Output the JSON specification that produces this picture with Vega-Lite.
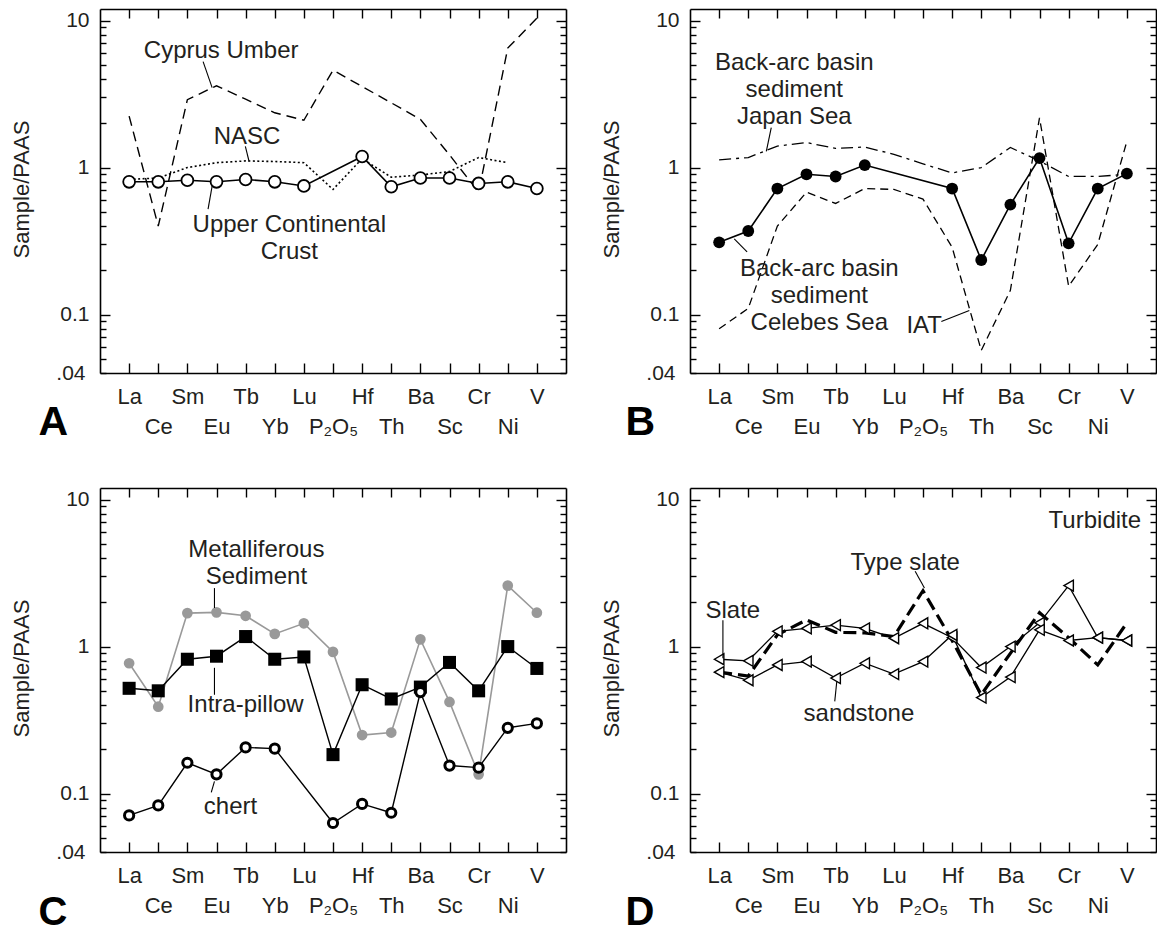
{
"$schema":"https://vega.github.io/schema/vega-lite/v6.json",
"padding":{"left":10,"top":8,"right":0,"bottom":0},
"columns":2,
"spacing":{"row":115,"column":124},
"bounds":"flush",
"datasets":{
"A":[
{"series":"UCC","element":"La","i":0,"value":0.80},{"series":"UCC","element":"Ce","i":1,"value":0.80},{"series":"UCC","element":"Sm","i":2,"value":0.82},{"series":"UCC","element":"Eu","i":3,"value":0.80},{"series":"UCC","element":"Tb","i":4,"value":0.83},{"series":"UCC","element":"Yb","i":5,"value":0.80},{"series":"UCC","element":"Lu","i":6,"value":0.75},{"series":"UCC","element":"Hf","i":8,"value":1.19},{"series":"UCC","element":"Th","i":9,"value":0.74},{"series":"UCC","element":"Ba","i":10,"value":0.85},{"series":"UCC","element":"Sc","i":11,"value":0.85},{"series":"UCC","element":"Cr","i":12,"value":0.78},{"series":"UCC","element":"Ni","i":13,"value":0.80},{"series":"UCC","element":"V","i":14,"value":0.72},
{"series":"NASC","element":"La","i":0,"value":0.83},{"series":"NASC","element":"Ce","i":1,"value":0.85},{"series":"NASC","element":"Sm","i":2,"value":1.0},{"series":"NASC","element":"Eu","i":3,"value":1.08},{"series":"NASC","element":"Tb","i":4,"value":1.11},{"series":"NASC","element":"Yb","i":5,"value":1.10},{"series":"NASC","element":"Lu","i":6,"value":1.08},{"series":"NASC","element":"P2O5","i":7,"value":0.71},{"series":"NASC","element":"Hf","i":8,"value":1.15},{"series":"NASC","element":"Th","i":9,"value":0.86},{"series":"NASC","element":"Ba","i":10,"value":0.89},{"series":"NASC","element":"Sc","i":11,"value":0.94},{"series":"NASC","element":"Cr","i":12,"value":1.17},{"series":"NASC","element":"Ni","i":13,"value":1.08},
{"series":"Cyprus","element":"La","i":0,"value":2.24},{"series":"Cyprus","element":"Ce","i":1,"value":0.40},{"series":"Cyprus","element":"Sm","i":2,"value":2.9},{"series":"Cyprus","element":"Eu","i":3,"value":3.6},{"series":"Cyprus","element":"Tb","i":4,"value":2.92},{"series":"Cyprus","element":"Yb","i":5,"value":2.36},{"series":"Cyprus","element":"Lu","i":6,"value":2.10},{"series":"Cyprus","element":"P2O5","i":7,"value":4.6},{"series":"Cyprus","element":"Hf","i":8,"value":3.56},{"series":"Cyprus","element":"Th","i":9,"value":2.76},{"series":"Cyprus","element":"Ba","i":10,"value":2.13},{"series":"Cyprus","element":"Sc","i":11,"value":1.22},{"series":"Cyprus","element":"Cr","i":12,"value":0.68},{"series":"Cyprus","element":"Ni","i":13,"value":6.5},{"series":"Cyprus","element":"V","i":14,"value":10.4}
],
"B":[
{"series":"Celebes","element":"La","i":0,"value":0.31},{"series":"Celebes","element":"Ce","i":1,"value":0.37},{"series":"Celebes","element":"Sm","i":2,"value":0.72},{"series":"Celebes","element":"Eu","i":3,"value":0.90},{"series":"Celebes","element":"Tb","i":4,"value":0.87},{"series":"Celebes","element":"Yb","i":5,"value":1.04},{"series":"Celebes","element":"Hf","i":8,"value":0.72},{"series":"Celebes","element":"Th","i":9,"value":0.235},{"series":"Celebes","element":"Ba","i":10,"value":0.56},{"series":"Celebes","element":"Sc","i":11,"value":1.16},{"series":"Celebes","element":"Cr","i":12,"value":0.305},{"series":"Celebes","element":"Ni","i":13,"value":0.72},{"series":"Celebes","element":"V","i":14,"value":0.91},
{"series":"Japan","element":"La","i":0,"value":1.13},{"series":"Japan","element":"Ce","i":1,"value":1.17},{"series":"Japan","element":"Sm","i":2,"value":1.40},{"series":"Japan","element":"Eu","i":3,"value":1.48},{"series":"Japan","element":"Tb","i":4,"value":1.35},{"series":"Japan","element":"Yb","i":5,"value":1.38},{"series":"Japan","element":"Lu","i":6,"value":1.23},{"series":"Japan","element":"P2O5","i":7,"value":1.06},{"series":"Japan","element":"Hf","i":8,"value":0.92},{"series":"Japan","element":"Th","i":9,"value":1.0},{"series":"Japan","element":"Ba","i":10,"value":1.37},{"series":"Japan","element":"Sc","i":11,"value":1.11},{"series":"Japan","element":"Cr","i":12,"value":0.87},{"series":"Japan","element":"Ni","i":13,"value":0.87},{"series":"Japan","element":"V","i":14,"value":0.90},
{"series":"IAT","element":"La","i":0,"value":0.080},{"series":"IAT","element":"Ce","i":1,"value":0.11},{"series":"IAT","element":"Sm","i":2,"value":0.40},{"series":"IAT","element":"Eu","i":3,"value":0.68},{"series":"IAT","element":"Tb","i":4,"value":0.57},{"series":"IAT","element":"Yb","i":5,"value":0.72},{"series":"IAT","element":"Lu","i":6,"value":0.71},{"series":"IAT","element":"P2O5","i":7,"value":0.61},{"series":"IAT","element":"Hf","i":8,"value":0.287},{"series":"IAT","element":"Th","i":9,"value":0.057},{"series":"IAT","element":"Ba","i":10,"value":0.146},{"series":"IAT","element":"Sc","i":11,"value":2.18},{"series":"IAT","element":"Cr","i":12,"value":0.156},{"series":"IAT","element":"Ni","i":13,"value":0.30},{"series":"IAT","element":"V","i":14,"value":1.51}
],
"C":[
{"series":"Metal","element":"La","i":0,"value":0.77},{"series":"Metal","element":"Ce","i":1,"value":0.39},{"series":"Metal","element":"Sm","i":2,"value":1.69},{"series":"Metal","element":"Eu","i":3,"value":1.71},{"series":"Metal","element":"Tb","i":4,"value":1.62},{"series":"Metal","element":"Yb","i":5,"value":1.22},{"series":"Metal","element":"Lu","i":6,"value":1.44},{"series":"Metal","element":"P2O5","i":7,"value":0.92},{"series":"Metal","element":"Hf","i":8,"value":0.25},{"series":"Metal","element":"Th","i":9,"value":0.26},{"series":"Metal","element":"Ba","i":10,"value":1.12},{"series":"Metal","element":"Sc","i":11,"value":0.42},{"series":"Metal","element":"Cr","i":12,"value":0.135},{"series":"Metal","element":"Ni","i":13,"value":2.6},{"series":"Metal","element":"V","i":14,"value":1.7},
{"series":"Intra","element":"La","i":0,"value":0.52},{"series":"Intra","element":"Ce","i":1,"value":0.50},{"series":"Intra","element":"Sm","i":2,"value":0.82},{"series":"Intra","element":"Eu","i":3,"value":0.86},{"series":"Intra","element":"Tb","i":4,"value":1.17},{"series":"Intra","element":"Yb","i":5,"value":0.82},{"series":"Intra","element":"Lu","i":6,"value":0.85},{"series":"Intra","element":"P2O5","i":7,"value":0.184},{"series":"Intra","element":"Hf","i":8,"value":0.55},{"series":"Intra","element":"Th","i":9,"value":0.44},{"series":"Intra","element":"Ba","i":10,"value":0.53},{"series":"Intra","element":"Sc","i":11,"value":0.78},{"series":"Intra","element":"Cr","i":12,"value":0.50},{"series":"Intra","element":"Ni","i":13,"value":1.0},{"series":"Intra","element":"V","i":14,"value":0.71},
{"series":"Chert","element":"La","i":0,"value":0.071},{"series":"Chert","element":"Ce","i":1,"value":0.083},{"series":"Chert","element":"Sm","i":2,"value":0.162},{"series":"Chert","element":"Eu","i":3,"value":0.135},{"series":"Chert","element":"Tb","i":4,"value":0.206},{"series":"Chert","element":"Yb","i":5,"value":0.202},{"series":"Chert","element":"P2O5","i":7,"value":0.063},{"series":"Chert","element":"Hf","i":8,"value":0.085},{"series":"Chert","element":"Th","i":9,"value":0.074},{"series":"Chert","element":"Ba","i":10,"value":0.49},{"series":"Chert","element":"Sc","i":11,"value":0.155},{"series":"Chert","element":"Cr","i":12,"value":0.15},{"series":"Chert","element":"Ni","i":13,"value":0.28},{"series":"Chert","element":"V","i":14,"value":0.30}
],
"D":[
{"series":"Slate","element":"La","i":0,"value":0.82},{"series":"Slate","element":"Ce","i":1,"value":0.80},{"series":"Slate","element":"Sm","i":2,"value":1.27},{"series":"Slate","element":"Eu","i":3,"value":1.33},{"series":"Slate","element":"Tb","i":4,"value":1.40},{"series":"Slate","element":"Yb","i":5,"value":1.33},{"series":"Slate","element":"Lu","i":6,"value":1.14},{"series":"Slate","element":"P2O5","i":7,"value":1.44},{"series":"Slate","element":"Hf","i":8,"value":1.15},{"series":"Slate","element":"Th","i":9,"value":0.72},{"series":"Slate","element":"Ba","i":10,"value":1.0},{"series":"Slate","element":"Sc","i":11,"value":1.45},{"series":"Slate","element":"Cr","i":12,"value":2.6},{"series":"Slate","element":"Ni","i":13,"value":1.15},{"series":"Slate","element":"V","i":14,"value":1.1},
{"series":"Sandstone","element":"La","i":0,"value":0.67},{"series":"Sandstone","element":"Ce","i":1,"value":0.59},{"series":"Sandstone","element":"Sm","i":2,"value":0.75},{"series":"Sandstone","element":"Eu","i":3,"value":0.79},{"series":"Sandstone","element":"Tb","i":4,"value":0.61},{"series":"Sandstone","element":"Yb","i":5,"value":0.77},{"series":"Sandstone","element":"Lu","i":6,"value":0.65},{"series":"Sandstone","element":"P2O5","i":7,"value":0.79},{"series":"Sandstone","element":"Hf","i":8,"value":1.2},{"series":"Sandstone","element":"Th","i":9,"value":0.45},{"series":"Sandstone","element":"Ba","i":10,"value":0.62},{"series":"Sandstone","element":"Sc","i":11,"value":1.3},{"series":"Sandstone","element":"Cr","i":12,"value":1.1},{"series":"Sandstone","element":"Ni","i":13,"value":1.15},{"series":"Sandstone","element":"V","i":14,"value":1.1},
{"series":"Type","element":"La","i":0,"value":0.67},{"series":"Type","element":"Ce","i":1,"value":0.63},{"series":"Type","element":"Sm","i":2,"value":1.2},{"series":"Type","element":"Eu","i":3,"value":1.52},{"series":"Type","element":"Tb","i":4,"value":1.25},{"series":"Type","element":"Yb","i":5,"value":1.24},{"series":"Type","element":"Lu","i":6,"value":1.17},{"series":"Type","element":"P2O5","i":7,"value":2.4},{"series":"Type","element":"Hf","i":8,"value":1.1},{"series":"Type","element":"Th","i":9,"value":0.47},{"series":"Type","element":"Ba","i":10,"value":0.9},{"series":"Type","element":"Sc","i":11,"value":1.7},{"series":"Type","element":"Cr","i":12,"value":1.15},{"series":"Type","element":"Ni","i":13,"value":0.75},{"series":"Type","element":"V","i":14,"value":1.45}
],
"An":[{"label":"Cyprus Umber","i":3.16,"value":5.6},{"label":"NASC","i":4.05,"value":1.44},{"label":"Upper Continental\nCrust","i":5.5,"value":0.364}],
"Al":[{"i":2.54,"value":5.26,"i2":2.85,"value2":3.5},{"i":3.99,"value":1.394,"i2":4.12,"value2":1.10},{"i":2.85,"value":0.747,"i2":2.71,"value2":0.522}],
"Bn":[{"label":"Back-arc basin\nsediment\nJapan Sea","i":2.58,"value":4.63},{"label":"Back-arc basin\nsediment\nCelebes Sea","i":3.44,"value":0.1835},{"label":"IAT","i":7.04,"value":0.0743}],
"Bl":[{"i":1.79,"value":1.87,"i2":1.62,"value2":1.29},{"i":0.52,"value":0.327,"i2":0.96,"value2":0.267},{"i":7.63,"value":0.0895,"i2":8.59,"value2":0.1066}],
"Cn":[{"label":"Metalliferous\nSediment","i":4.37,"value":4.06},{"label":"Intra-pillow","i":4.0,"value":0.36},{"label":"chert","i":3.48,"value":0.0721}],
"Cl":[{"i":2.93,"value":2.50,"i2":2.93,"value2":1.83},{"i":2.93,"value":0.717,"i2":2.93,"value2":0.470},{"i":2.93,"value":0.1208,"i2":2.82,"value2":0.1018}],
"Dn":[{"label":"Type slate","i":6.39,"value":3.31},{"label":"Slate","i":0.47,"value":1.56},{"label":"sandstone","i":4.80,"value":0.311},{"label":"Turbidite","i":12.9,"value":6.4}],
"Dl":[{"i":6.73,"value":3.26,"i2":7.05,"value2":2.50},{"i":0.13,"value":1.51,"i2":0.13,"value2":0.832},{"i":4.04,"value":0.58,"i2":3.97,"value2":0.424}]
},
"concat":[
{"width":466,"height":364,
"layer":[
{"mark":{"type":"rule","color":"black","strokeWidth":1.4},"encoding":{"x":{"datum":0,"type":"quantitative","scale":{"domain":[-1,15],"nice":false,"zero":false},"axis":{"orient":"bottom","values":[0,1,2,3,4,5,6,7,8,9,10,11,12,13,14],"labelExpr":"datum.value % 2 == 1 ? ['', ['La','Ce','Sm','Eu','Tb','Yb','Lu','P₂O₅','Hf','Th','Ba','Sc','Cr','Ni','V'][datum.value]] : ['La','Ce','Sm','Eu','Tb','Yb','Lu','P₂O₅','Hf','Th','Ba','Sc','Cr','Ni','V'][datum.value]","labelFontSize":22,"labelLineHeight":30,"labelPadding":23,"labelBaseline":"top","labelAlign":"center","labelOverlap":false,"labelBound":false,"labelFlush":false,"tickSize":-10,"title":"A","titleX":-62,"titleY":61,"titleFontSize":41,"titleFontWeight":"bold","titleAlign":"left","titleBaseline":"alphabetic","titleColor":"black"}},"x2":{"datum":14},"y":{"datum":1,"type":"quantitative","scale":{"type":"log","domain":[0.04,12],"nice":false},"axis":{"orient":"left","values":[0.04,0.05,0.06,0.07,0.08,0.09,0.1,0.2,0.3,0.4,0.5,0.6,0.7,0.8,0.9,1,2,3,4,5,6,7,8,9,10],"labelExpr":"datum.value == 0.04 ? '.04' : datum.value == 0.1 ? '0.1' : datum.value == 1 ? '1' : datum.value == 10 ? '10' : ''","labelFontSize":21,"labelPadding":21,"labelOverlap":false,"labelBound":false,"labelFlush":false,"tickSize":{"condition":{"test":"datum.value == 0.1 || datum.value == 1 || datum.value == 10","value":-10},"value":-6},"title":"Sample/PAAS","titleFontSize":22,"titleFontWeight":"normal","titleX":-79,"titleY":180,"titleAngle":-90,"titleAlign":"center","titleBaseline":"middle"}}}},
{"mark":{"type":"rule","opacity":0},"encoding":{"x":{"datum":0,"type":"quantitative","scale":{"domain":[-1,15],"nice":false,"zero":false},"axis":{"orient":"top","values":[0,1,2,3,4,5,6,7,8,9,10,11,12,13,14],"labels":false,"tickSize":-9,"title":null}},"y":{"datum":1,"type":"quantitative","scale":{"type":"log","domain":[0.04,12],"nice":false},"axis":{"orient":"right","values":[0.04,0.05,0.06,0.07,0.08,0.09,0.1,0.2,0.3,0.4,0.5,0.6,0.7,0.8,0.9,1,2,3,4,5,6,7,8,9,10],"labels":false,"tickSize":{"condition":{"test":"datum.value == 0.1 || datum.value == 1 || datum.value == 10","value":-10},"value":-6},"title":null}}}},
{"data":{"name":"A"},"transform":[{"filter":"datum.series == 'Cyprus'"}],"mark":{"type":"line","color":"black","strokeWidth":1.4,"strokeDash":[10,6]},"encoding":{"x":{"field":"i","type":"quantitative","axis":null},"y":{"field":"value","type":"quantitative","axis":null}}},
{"data":{"name":"A"},"transform":[{"filter":"datum.series == 'NASC'"}],"mark":{"type":"line","color":"black","strokeWidth":1.6,"strokeDash":[2,2.5]},"encoding":{"x":{"field":"i","type":"quantitative","axis":null},"y":{"field":"value","type":"quantitative","axis":null}}},
{"data":{"name":"A"},"transform":[{"filter":"datum.series == 'UCC'"}],"mark":{"type":"line","color":"black","strokeWidth":1.6},"encoding":{"x":{"field":"i","type":"quantitative","axis":null},"y":{"field":"value","type":"quantitative","axis":null}}},
{"data":{"name":"A"},"transform":[{"filter":"datum.series == 'UCC'"}],"mark":{"type":"point","shape":"circle","filled":true,"fill":"white","stroke":"black","strokeWidth":1.8,"size":140,"opacity":1},"encoding":{"x":{"field":"i","type":"quantitative","axis":null},"y":{"field":"value","type":"quantitative","axis":null}}},
{"data":{"name":"Al"},"mark":{"type":"rule","color":"black","strokeWidth":1.1},"encoding":{"x":{"field":"i","type":"quantitative","axis":null},"y":{"field":"value","type":"quantitative","axis":null},"x2":{"field":"i2"},"y2":{"field":"value2"}}},
{"data":{"name":"An"},"mark":{"type":"text","fontSize":24,"align":"center","baseline":"alphabetic","lineBreak":"\n","lineHeight":27,"color":"#231f20"},"encoding":{"x":{"field":"i","type":"quantitative","axis":null},"y":{"field":"value","type":"quantitative","axis":null},"text":{"field":"label"}}}
],
"resolve":{"axis":{"x":"independent","y":"independent"}}},

{"width":466,"height":364,
"layer":[
{"mark":{"type":"rule","color":"black","strokeWidth":1.4},"encoding":{"x":{"datum":0,"type":"quantitative","scale":{"domain":[-1,15],"nice":false,"zero":false},"axis":{"orient":"bottom","values":[0,1,2,3,4,5,6,7,8,9,10,11,12,13,14],"labelExpr":"datum.value % 2 == 1 ? ['', ['La','Ce','Sm','Eu','Tb','Yb','Lu','P₂O₅','Hf','Th','Ba','Sc','Cr','Ni','V'][datum.value]] : ['La','Ce','Sm','Eu','Tb','Yb','Lu','P₂O₅','Hf','Th','Ba','Sc','Cr','Ni','V'][datum.value]","labelFontSize":22,"labelLineHeight":30,"labelPadding":23,"labelBaseline":"top","labelAlign":"center","labelOverlap":false,"labelBound":false,"labelFlush":false,"tickSize":-10,"title":"B","titleX":-65,"titleY":61,"titleFontSize":41,"titleFontWeight":"bold","titleAlign":"left","titleBaseline":"alphabetic","titleColor":"black"}},"x2":{"datum":14},"y":{"datum":1,"type":"quantitative","scale":{"type":"log","domain":[0.04,12],"nice":false},"axis":{"orient":"left","values":[0.04,0.05,0.06,0.07,0.08,0.09,0.1,0.2,0.3,0.4,0.5,0.6,0.7,0.8,0.9,1,2,3,4,5,6,7,8,9,10],"labelExpr":"datum.value == 0.04 ? '.04' : datum.value == 0.1 ? '0.1' : datum.value == 1 ? '1' : datum.value == 10 ? '10' : ''","labelFontSize":21,"labelPadding":21,"labelOverlap":false,"labelBound":false,"labelFlush":false,"tickSize":{"condition":{"test":"datum.value == 0.1 || datum.value == 1 || datum.value == 10","value":-10},"value":-6},"title":"Sample/PAAS","titleFontSize":22,"titleFontWeight":"normal","titleX":-79,"titleY":180,"titleAngle":-90,"titleAlign":"center","titleBaseline":"middle"}}}},
{"mark":{"type":"rule","opacity":0},"encoding":{"x":{"datum":0,"type":"quantitative","scale":{"domain":[-1,15],"nice":false,"zero":false},"axis":{"orient":"top","values":[0,1,2,3,4,5,6,7,8,9,10,11,12,13,14],"labels":false,"tickSize":-9,"title":null}},"y":{"datum":1,"type":"quantitative","scale":{"type":"log","domain":[0.04,12],"nice":false},"axis":{"orient":"right","values":[0.04,0.05,0.06,0.07,0.08,0.09,0.1,0.2,0.3,0.4,0.5,0.6,0.7,0.8,0.9,1,2,3,4,5,6,7,8,9,10],"labels":false,"tickSize":{"condition":{"test":"datum.value == 0.1 || datum.value == 1 || datum.value == 10","value":-10},"value":-6},"title":null}}}},
{"data":{"name":"B"},"transform":[{"filter":"datum.series == 'IAT'"}],"mark":{"type":"line","color":"black","strokeWidth":1.3,"strokeDash":[8,5]},"encoding":{"x":{"field":"i","type":"quantitative","axis":null},"y":{"field":"value","type":"quantitative","axis":null}}},
{"data":{"name":"B"},"transform":[{"filter":"datum.series == 'Japan'"}],"mark":{"type":"line","color":"black","strokeWidth":1.3,"strokeDash":[12,5,3,5]},"encoding":{"x":{"field":"i","type":"quantitative","axis":null},"y":{"field":"value","type":"quantitative","axis":null}}},
{"data":{"name":"B"},"transform":[{"filter":"datum.series == 'Celebes'"}],"mark":{"type":"line","color":"black","strokeWidth":1.6},"encoding":{"x":{"field":"i","type":"quantitative","axis":null},"y":{"field":"value","type":"quantitative","axis":null}}},
{"data":{"name":"B"},"transform":[{"filter":"datum.series == 'Celebes'"}],"mark":{"type":"point","shape":"circle","filled":true,"color":"black","size":140,"opacity":1},"encoding":{"x":{"field":"i","type":"quantitative","axis":null},"y":{"field":"value","type":"quantitative","axis":null}}},
{"data":{"name":"Bl"},"mark":{"type":"rule","color":"black","strokeWidth":1.1},"encoding":{"x":{"field":"i","type":"quantitative","axis":null},"y":{"field":"value","type":"quantitative","axis":null},"x2":{"field":"i2"},"y2":{"field":"value2"}}},
{"data":{"name":"Bn"},"mark":{"type":"text","fontSize":24,"align":"center","baseline":"alphabetic","lineBreak":"\n","lineHeight":27,"color":"#231f20"},"encoding":{"x":{"field":"i","type":"quantitative","axis":null},"y":{"field":"value","type":"quantitative","axis":null},"text":{"field":"label"}}}
],
"resolve":{"axis":{"x":"independent","y":"independent"}}},

{"width":466,"height":364,
"layer":[
{"mark":{"type":"rule","color":"black","strokeWidth":1.4},"encoding":{"x":{"datum":0,"type":"quantitative","scale":{"domain":[-1,15],"nice":false,"zero":false},"axis":{"orient":"bottom","values":[0,1,2,3,4,5,6,7,8,9,10,11,12,13,14],"labelExpr":"datum.value % 2 == 1 ? ['', ['La','Ce','Sm','Eu','Tb','Yb','Lu','P₂O₅','Hf','Th','Ba','Sc','Cr','Ni','V'][datum.value]] : ['La','Ce','Sm','Eu','Tb','Yb','Lu','P₂O₅','Hf','Th','Ba','Sc','Cr','Ni','V'][datum.value]","labelFontSize":22,"labelLineHeight":30,"labelPadding":23,"labelBaseline":"top","labelAlign":"center","labelOverlap":false,"labelBound":false,"labelFlush":false,"tickSize":-10,"title":"C","titleX":-62,"titleY":72,"titleFontSize":40,"titleFontWeight":"bold","titleAlign":"left","titleBaseline":"alphabetic","titleColor":"black"}},"x2":{"datum":14},"y":{"datum":1,"type":"quantitative","scale":{"type":"log","domain":[0.04,12],"nice":false},"axis":{"orient":"left","values":[0.04,0.05,0.06,0.07,0.08,0.09,0.1,0.2,0.3,0.4,0.5,0.6,0.7,0.8,0.9,1,2,3,4,5,6,7,8,9,10],"labelExpr":"datum.value == 0.04 ? '.04' : datum.value == 0.1 ? '0.1' : datum.value == 1 ? '1' : datum.value == 10 ? '10' : ''","labelFontSize":21,"labelPadding":21,"labelOverlap":false,"labelBound":false,"labelFlush":false,"tickSize":{"condition":{"test":"datum.value == 0.1 || datum.value == 1 || datum.value == 10","value":-10},"value":-6},"title":"Sample/PAAS","titleFontSize":22,"titleFontWeight":"normal","titleX":-79,"titleY":180,"titleAngle":-90,"titleAlign":"center","titleBaseline":"middle"}}}},
{"mark":{"type":"rule","opacity":0},"encoding":{"x":{"datum":0,"type":"quantitative","scale":{"domain":[-1,15],"nice":false,"zero":false},"axis":{"orient":"top","values":[0,1,2,3,4,5,6,7,8,9,10,11,12,13,14],"labels":false,"tickSize":-9,"title":null}},"y":{"datum":1,"type":"quantitative","scale":{"type":"log","domain":[0.04,12],"nice":false},"axis":{"orient":"right","values":[0.04,0.05,0.06,0.07,0.08,0.09,0.1,0.2,0.3,0.4,0.5,0.6,0.7,0.8,0.9,1,2,3,4,5,6,7,8,9,10],"labels":false,"tickSize":{"condition":{"test":"datum.value == 0.1 || datum.value == 1 || datum.value == 10","value":-10},"value":-6},"title":null}}}},
{"data":{"name":"C"},"transform":[{"filter":"datum.series == 'Metal'"}],"mark":{"type":"line","color":"#999999","strokeWidth":1.6},"encoding":{"x":{"field":"i","type":"quantitative","axis":null},"y":{"field":"value","type":"quantitative","axis":null}}},
{"data":{"name":"C"},"transform":[{"filter":"datum.series == 'Metal'"}],"mark":{"type":"point","shape":"circle","filled":true,"color":"#999999","size":115,"opacity":1},"encoding":{"x":{"field":"i","type":"quantitative","axis":null},"y":{"field":"value","type":"quantitative","axis":null}}},
{"data":{"name":"C"},"transform":[{"filter":"datum.series == 'Intra'"}],"mark":{"type":"line","color":"black","strokeWidth":1.4},"encoding":{"x":{"field":"i","type":"quantitative","axis":null},"y":{"field":"value","type":"quantitative","axis":null}}},
{"data":{"name":"C"},"transform":[{"filter":"datum.series == 'Chert'"}],"mark":{"type":"line","color":"black","strokeWidth":1.4},"encoding":{"x":{"field":"i","type":"quantitative","axis":null},"y":{"field":"value","type":"quantitative","axis":null}}},
{"data":{"name":"C"},"transform":[{"filter":"datum.series == 'Intra'"}],"mark":{"type":"point","shape":"square","filled":true,"color":"black","size":170,"opacity":1},"encoding":{"x":{"field":"i","type":"quantitative","axis":null},"y":{"field":"value","type":"quantitative","axis":null}}},
{"data":{"name":"C"},"transform":[{"filter":"datum.series == 'Chert'"}],"mark":{"type":"point","shape":"circle","filled":true,"fill":"white","stroke":"black","strokeWidth":3,"size":85,"opacity":1},"encoding":{"x":{"field":"i","type":"quantitative","axis":null},"y":{"field":"value","type":"quantitative","axis":null}}},
{"data":{"name":"Cl"},"mark":{"type":"rule","color":"black","strokeWidth":1.1},"encoding":{"x":{"field":"i","type":"quantitative","axis":null},"y":{"field":"value","type":"quantitative","axis":null},"x2":{"field":"i2"},"y2":{"field":"value2"}}},
{"data":{"name":"Cn"},"mark":{"type":"text","fontSize":24,"align":"center","baseline":"alphabetic","lineBreak":"\n","lineHeight":27,"color":"#231f20"},"encoding":{"x":{"field":"i","type":"quantitative","axis":null},"y":{"field":"value","type":"quantitative","axis":null},"text":{"field":"label"}}}
],
"resolve":{"axis":{"x":"independent","y":"independent"}}},

{"width":466,"height":364,
"layer":[
{"mark":{"type":"rule","color":"black","strokeWidth":1.4},"encoding":{"x":{"datum":0,"type":"quantitative","scale":{"domain":[-1,15],"nice":false,"zero":false},"axis":{"orient":"bottom","values":[0,1,2,3,4,5,6,7,8,9,10,11,12,13,14],"labelExpr":"datum.value % 2 == 1 ? ['', ['La','Ce','Sm','Eu','Tb','Yb','Lu','P₂O₅','Hf','Th','Ba','Sc','Cr','Ni','V'][datum.value]] : ['La','Ce','Sm','Eu','Tb','Yb','Lu','P₂O₅','Hf','Th','Ba','Sc','Cr','Ni','V'][datum.value]","labelFontSize":22,"labelLineHeight":30,"labelPadding":23,"labelBaseline":"top","labelAlign":"center","labelOverlap":false,"labelBound":false,"labelFlush":false,"tickSize":-10,"title":"D","titleX":-65,"titleY":72,"titleFontSize":40,"titleFontWeight":"bold","titleAlign":"left","titleBaseline":"alphabetic","titleColor":"black"}},"x2":{"datum":14},"y":{"datum":1,"type":"quantitative","scale":{"type":"log","domain":[0.04,12],"nice":false},"axis":{"orient":"left","values":[0.04,0.05,0.06,0.07,0.08,0.09,0.1,0.2,0.3,0.4,0.5,0.6,0.7,0.8,0.9,1,2,3,4,5,6,7,8,9,10],"labelExpr":"datum.value == 0.04 ? '.04' : datum.value == 0.1 ? '0.1' : datum.value == 1 ? '1' : datum.value == 10 ? '10' : ''","labelFontSize":21,"labelPadding":21,"labelOverlap":false,"labelBound":false,"labelFlush":false,"tickSize":{"condition":{"test":"datum.value == 0.1 || datum.value == 1 || datum.value == 10","value":-10},"value":-6},"title":"Sample/PAAS","titleFontSize":22,"titleFontWeight":"normal","titleX":-79,"titleY":180,"titleAngle":-90,"titleAlign":"center","titleBaseline":"middle"}}}},
{"mark":{"type":"rule","opacity":0},"encoding":{"x":{"datum":0,"type":"quantitative","scale":{"domain":[-1,15],"nice":false,"zero":false},"axis":{"orient":"top","values":[0,1,2,3,4,5,6,7,8,9,10,11,12,13,14],"labels":false,"tickSize":-9,"title":null}},"y":{"datum":1,"type":"quantitative","scale":{"type":"log","domain":[0.04,12],"nice":false},"axis":{"orient":"right","values":[0.04,0.05,0.06,0.07,0.08,0.09,0.1,0.2,0.3,0.4,0.5,0.6,0.7,0.8,0.9,1,2,3,4,5,6,7,8,9,10],"labels":false,"tickSize":{"condition":{"test":"datum.value == 0.1 || datum.value == 1 || datum.value == 10","value":-10},"value":-6},"title":null}}}},
{"data":{"name":"D"},"transform":[{"filter":"datum.series == 'Sandstone'"}],"mark":{"type":"line","color":"black","strokeWidth":1.3},"encoding":{"x":{"field":"i","type":"quantitative","axis":null},"y":{"field":"value","type":"quantitative","axis":null}}},
{"data":{"name":"D"},"transform":[{"filter":"datum.series == 'Slate'"}],"mark":{"type":"line","color":"black","strokeWidth":1.3},"encoding":{"x":{"field":"i","type":"quantitative","axis":null},"y":{"field":"value","type":"quantitative","axis":null}}},
{"data":{"name":"D"},"transform":[{"filter":"datum.series == 'Type'"}],"mark":{"type":"line","color":"black","strokeWidth":3.2,"strokeDash":[13,6]},"encoding":{"x":{"field":"i","type":"quantitative","axis":null},"y":{"field":"value","type":"quantitative","axis":null}}},
{"data":{"name":"D"},"transform":[{"filter":"datum.series == 'Slate' || datum.series == 'Sandstone'"}],"mark":{"type":"point","shape":"triangle-left","filled":true,"fill":"white","stroke":"black","strokeWidth":1.4,"size":120,"opacity":1},"encoding":{"x":{"field":"i","type":"quantitative","axis":null},"y":{"field":"value","type":"quantitative","axis":null}}},
{"data":{"name":"Dl"},"mark":{"type":"rule","color":"black","strokeWidth":1.1},"encoding":{"x":{"field":"i","type":"quantitative","axis":null},"y":{"field":"value","type":"quantitative","axis":null},"x2":{"field":"i2"},"y2":{"field":"value2"}}},
{"data":{"name":"Dn"},"mark":{"type":"text","fontSize":24,"align":"center","baseline":"alphabetic","lineBreak":"\n","lineHeight":27,"color":"#231f20"},"encoding":{"x":{"field":"i","type":"quantitative","axis":null},"y":{"field":"value","type":"quantitative","axis":null},"text":{"field":"label"}}}
],
"resolve":{"axis":{"x":"independent","y":"independent"}}}
],
"config":{"font":"Liberation Sans","view":{"stroke":null},"axis":{"grid":false,"domainColor":"black","domainWidth":1.6,"tickColor":"black","tickWidth":1.4,"labelFont":"Liberation Sans","titleFont":"Liberation Sans","labelColor":"#231f20","titleColor":"#231f20"},"text":{"font":"Liberation Sans"}}
}
